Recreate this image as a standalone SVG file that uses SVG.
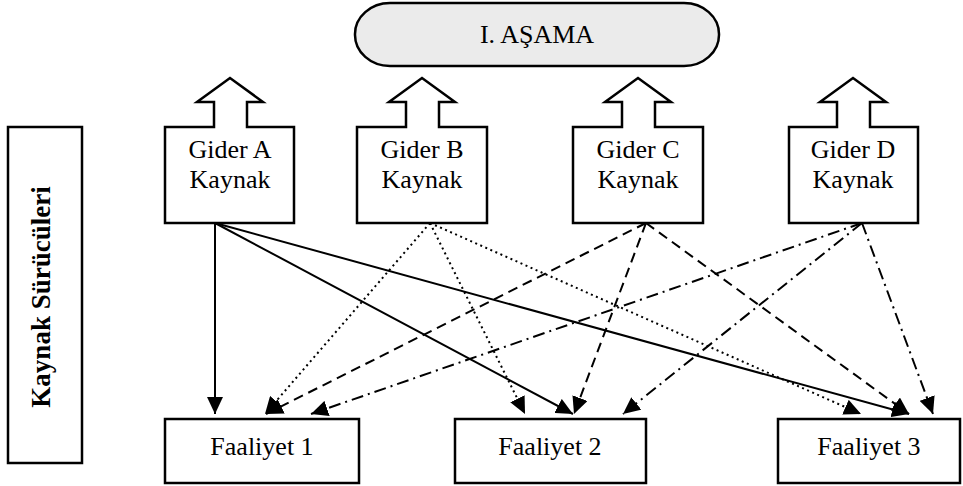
<svg xmlns="http://www.w3.org/2000/svg" width="963" height="486" viewBox="0 0 963 486">
  <defs>
    <marker id="head" markerUnits="userSpaceOnUse" markerWidth="18" markerHeight="16" viewBox="0 0 18 16" refX="17" refY="8" orient="auto">
      <path d="M0,0 L17,8 L0,16 Z" fill="#000"/>
    </marker>
    <style>
      .box { fill: #fff; stroke: #000; stroke-width: 2.5; stroke-linejoin: miter; }
      text { font-family: 'Liberation Serif', Tinos, 'Times New Roman', Times, serif; }
      .lbl { font-size: 26px; fill: #000; text-anchor: middle; }
      .side { font-size: 27px; font-weight: bold; fill: #000; text-anchor: middle; }
      .ln { fill: none; stroke: #000; stroke-width: 2; marker-end: url(#head); }
      .dot { stroke-dasharray: 2 3.5; }
      .dash { stroke-dasharray: 10 6; }
      .dashdot { stroke-dasharray: 12 5 2 5; }
    </style>
  </defs>
  <rect width="963" height="486" fill="#fff"/>

  <!-- stage header -->
  <g id="stage">
    <rect x="355" y="3" width="364" height="63" rx="35" ry="31" fill="#ebebeb" stroke="#000" stroke-width="2.5"/>
    <text class="lbl" x="537" y="43" font-family="Liberation Serif, serif">I. AŞAMA</text>
  </g>

  <!-- side label -->
  <g id="drivers">
    <rect class="box" x="8" y="127" width="74" height="336"/>
    <text class="side" transform="translate(50,297) rotate(-90)" font-family="Liberation Serif, serif">Kaynak Sürücüleri</text>
  </g>

  <!-- cost resource boxes with upward block arrows -->
  <g id="giderA">
    <path class="box" d="M165,127 H214 V102 H197 L230,78 L263,102 H247 V127 H294 V223 H165 Z"/>
    <text class="lbl" x="230" y="158">Gider A</text>
    <text class="lbl" x="230" y="188">Kaynak</text>
  </g>
  <g id="giderB">
    <path class="box" d="M357,127 H406 V102 H389 L422,78 L455,102 H439 V127 H487 V223 H357 Z"/>
    <text class="lbl" x="422" y="158">Gider B</text>
    <text class="lbl" x="422" y="188">Kaynak</text>
  </g>
  <g id="giderC">
    <path class="box" d="M573,127 H622 V102 H605 L638,78 L671,102 H655 V127 H703 V223 H573 Z"/>
    <text class="lbl" x="638" y="158">Gider C</text>
    <text class="lbl" x="638" y="188">Kaynak</text>
  </g>
  <g id="giderD">
    <path class="box" d="M789,127 H837 V102 H820 L853,78 L886,102 H870 V127 H918 V223 H789 Z"/>
    <text class="lbl" x="853" y="158">Gider D</text>
    <text class="lbl" x="853" y="188">Kaynak</text>
  </g>

  <!-- activity boxes -->
  <g id="faaliyet1">
    <rect class="box" x="165" y="419" width="194" height="64"/>
    <text class="lbl" x="262" y="455">Faaliyet 1</text>
  </g>
  <g id="faaliyet2">
    <rect class="box" x="455" y="419" width="191" height="64"/>
    <text class="lbl" x="550" y="455">Faaliyet 2</text>
  </g>
  <g id="faaliyet3">
    <rect class="box" x="778" y="419" width="182" height="64"/>
    <text class="lbl" x="869" y="455">Faaliyet 3</text>
  </g>

  <!-- resource drivers -->
  <g id="connectors">
    <line class="ln" x1="215" y1="223" x2="215" y2="414"/>
    <line class="ln" x1="215" y1="223" x2="573" y2="414"/>
    <line class="ln" x1="215" y1="223" x2="909" y2="414"/>

    <line class="ln dot" x1="430" y1="223" x2="265" y2="414"/>
    <line class="ln dot" x1="430" y1="223" x2="525" y2="414"/>
    <line class="ln dot" x1="430" y1="223" x2="861" y2="414"/>

    <line class="ln dash" x1="646" y1="223" x2="266" y2="414"/>
    <line class="ln dash" x1="646" y1="223" x2="574" y2="414"/>
    <line class="ln dash" x1="646" y1="223" x2="909" y2="414"/>

    <line class="ln dashdot" x1="862" y1="223" x2="311" y2="414"/>
    <line class="ln dashdot" x1="862" y1="223" x2="623" y2="414"/>
    <line class="ln dashdot" x1="862" y1="223" x2="933" y2="414"/>
  </g>
</svg>
